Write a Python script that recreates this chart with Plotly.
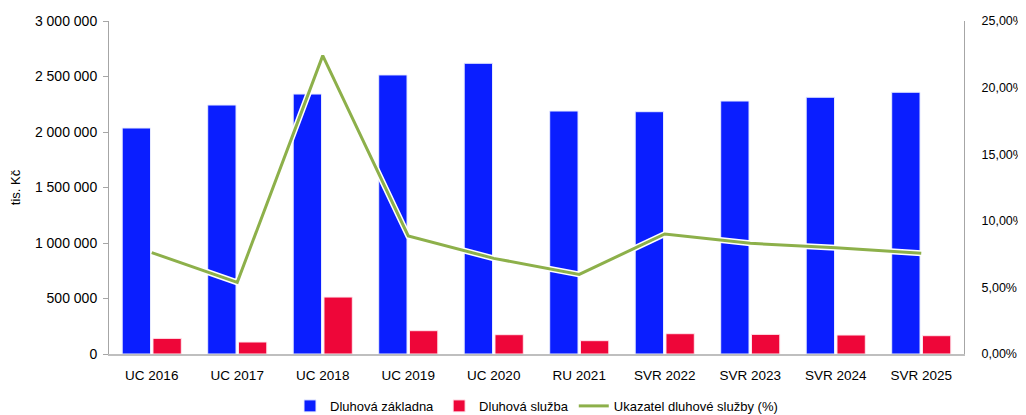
import plotly.graph_objects as go

categories = ["UC 2016", "UC 2017", "UC 2018", "UC 2019", "UC 2020",
              "RU 2021", "SVR 2022", "SVR 2023", "SVR 2024", "SVR 2025"]
dluhova_zakladna = [2036000, 2243000, 2342000, 2514000, 2619000,
                    2189000, 2183000, 2279000, 2313000, 2358000]
dluhova_sluzba = [141000, 108000, 513000, 210000, 174000,
                  120000, 183000, 177000, 171000, 165000]
ukazatel = [0.0761, 0.0538, 0.2240, 0.0886, 0.0718,
            0.0598, 0.0901, 0.0831, 0.0798, 0.0756]

left_ticks = [0, 500000, 1000000, 1500000, 2000000, 2500000, 3000000]
right_ticks = [0, 0.05, 0.10, 0.15, 0.20, 0.25]

FONT = "Liberation Sans"
BLUE = "#0A1EFF"
RED = "#EE0639"
GREEN = "#8DB04A"

fig = go.Figure()
fig.add_trace(go.Bar(x=categories, y=dluhova_zakladna, name="Dluhová základna",
                     marker=dict(color=BLUE, line=dict(color="#E8ECFF", width=1))))
fig.add_trace(go.Bar(x=categories, y=dluhova_sluzba, name="Dluhová služba",
                     marker=dict(color=RED, line=dict(color="#FFE8EE", width=1))))
fig.add_trace(go.Scatter(x=categories, y=ukazatel, yaxis="y2", mode="lines",
                         line=dict(color="white", width=6), showlegend=False,
                         hoverinfo="skip"))
fig.add_trace(go.Scatter(x=categories, y=ukazatel, yaxis="y2", mode="lines",
                         name="Ukazatel dluhové služby (%)",
                         line=dict(color=GREEN, width=3)))

# page body has an 8px default margin, so the figure is 8px smaller and shifted
fig.update_layout(
    width=1018, height=407,
    margin=dict(l=101, r=62, t=13, b=61, autoexpand=False),
    paper_bgcolor="white", plot_bgcolor="white",
    separators=", ",
    font=dict(family=FONT, size=13, color="#000000"),
    barmode="group", bargap=0.28, bargroupgap=0.08,
    showlegend=True,
    legend=dict(orientation="h", x=0.5, xanchor="center", y=-0.156, yanchor="middle",
                font=dict(size=13), itemwidth=30, traceorder="normal"),
    xaxis=dict(showline=True, linecolor="#BFBFBF", linewidth=2, ticks="",
               showgrid=False, tickfont=dict(size=13.5), ticklabelstandoff=8),
    yaxis=dict(range=[0, 3000000], tickvals=left_ticks, tickformat=",.0f",
               showline=True, linecolor="#A6A6A6", linewidth=1,
               ticks="outside", ticklen=5, tickcolor="#A6A6A6",
               showgrid=False, zeroline=False, tickfont=dict(size=14),
               ticklabelstandoff=3,
               title=dict(text="tis. Kč", font=dict(size=13), standoff=20)),
    yaxis2=dict(range=[0, 0.25], tickvals=right_ticks, tickformat=".2%",
                overlaying="y", side="right", showline=True, linecolor="#A6A6A6",
                linewidth=1, ticks="", showgrid=False, zeroline=False,
                tickfont=dict(size=12.5), ticklabelstandoff=14),
)

fig.write_html("out.html")
